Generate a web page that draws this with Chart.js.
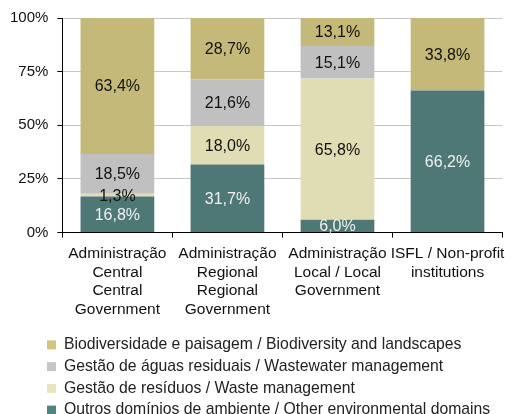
<!DOCTYPE html>
<html>
<head>
<meta charset="utf-8">
<script src="https://cdn.jsdelivr.net/npm/chart.js@4/dist/chart.umd.min.js"></script>
<style>
  html, body { margin: 0; padding: 0; background: #fff; }
  #wrap { width: 512px; height: 414px; }
</style>
</head>
<body>
<div id="wrap"><canvas id="chart-bar"></canvas></div>
<script>
var categories = [
  ["Administração", "Central", "Central", "Government"],
  ["Administração", "Regional", "Regional", "Government"],
  ["Administração", "Local / Local", "Government"],
  ["ISFL / Non-profit", "institutions"]
];
var otherDomains = [16.8, 31.7, 6.0, 66.2];
var wasteMgmt = [1.3, 18.0, 65.8, 0];
var wastewaterMgmt = [18.5, 21.6, 15.1, 0];
var biodiversity = [63.4, 28.7, 13.1, 33.8];
var yTicks = [0, 25, 50, 75, 100];

var fontFamily = "'Liberation Sans', Arial, sans-serif";

function pct(v) {
  return v.toFixed(1).replace(".", ",") + "%";
}

// draws the value in the middle of each segment
var segmentLabels = {
  id: "segmentLabels",
  afterDatasetsDraw: function (chart) {
    var ctx = chart.ctx;
    ctx.save();
    ctx.font = "16px " + fontFamily;
    ctx.textAlign = "center";
    ctx.textBaseline = "middle";
    chart.data.datasets.forEach(function (ds, i) {
      var meta = chart.getDatasetMeta(i);
      meta.data.forEach(function (bar, j) {
        var v = ds.data[j];
        if (!v) return;
        ctx.fillStyle = ds.labelColor;
        ctx.fillText(pct(v), bar.x, (bar.y + bar.base) / 2 + 1);
      });
    });
    ctx.restore();
  }
};

// legend rows sit a bit left and lower than chart.js puts them
var legendShift = {
  id: "legendShift",
  afterLayout: function (chart) {
    var lg = chart.legend;
    lg.left = 41;
    lg.top += 5;
    lg.bottom += 5;
  }
};

var ctx = document.getElementById("chart-bar").getContext("2d");

new Chart(ctx, {
  type: "bar",
  data: {
    labels: categories,
    datasets: [
      {
        label: "Outros domínios de ambiente / Other environmental domains",
        data: otherDomains,
        backgroundColor: "#4e7876",
        legendColor: "#4f8580",
        labelColor: "#f0f0f0"
      },
      {
        label: "Gestão de resíduos / Waste management",
        data: wasteMgmt,
        backgroundColor: "#e0dcb3",
        legendColor: "#e8e4c0",
        labelColor: "#111"
      },
      {
        label: "Gestão de águas residuais / Wastewater management",
        data: wastewaterMgmt,
        backgroundColor: "#c0c0c0",
        legendColor: "#c6c6c8",
        labelColor: "#111"
      },
      {
        label: "Biodiversidade e paisagem / Biodiversity and landscapes",
        data: biodiversity,
        backgroundColor: "#c4b978",
        legendColor: "#d4c47c",
        labelColor: "#111"
      }
    ]
  },
  options: {
    responsive: true,
    maintainAspectRatio: false,
    animation: false,
    layout: {
      padding: { top: 6, right: 5, left: 1, bottom: -9 }
    },
    datasets: {
      bar: {
        categoryPercentage: 1,
        barPercentage: 0.67
      }
    },
    plugins: {
      tooltip: { enabled: false },
      legend: {
        position: "bottom",
        align: "start",
        reverse: true,
        labels: {
          boxWidth: 9,
          boxHeight: 9,
          padding: 6,
          color: "#222",
          font: { size: 15.75, family: fontFamily },
          generateLabels: function (chart) {
            var items = Chart.defaults.plugins.legend.labels.generateLabels(chart);
            items.forEach(function (it) {
              var c = chart.data.datasets[it.datasetIndex].legendColor;
              it.fillStyle = c;
              it.strokeStyle = c;
              it.lineWidth = 0;
            });
            return items;
          }
        }
      }
    },
    scales: {
      x: {
        stacked: true,
        grid: {
          display: true,
          drawOnChartArea: false,
          drawTicks: true,
          tickLength: 5,
          tickColor: "#000",
          offset: true
        },
        border: { display: true, color: "#000", width: 1 },
        ticks: {
          color: "#111",
          padding: 7,
          maxRotation: 0,
          autoSkip: false,
          font: { size: 15.5, family: fontFamily, lineHeight: 1.2 }
        }
      },
      y: {
        stacked: true,
        min: 0,
        max: 100,
        afterBuildTicks: function (axis) {
          axis.ticks = yTicks.map(function (v) { return { value: v }; });
        },
        grid: {
          color: "#c8c8c8",
          tickColor: "#000",
          tickLength: 5,
          tickBorderDash: [],
          borderDash: [3, 3]
        },
        border: { display: true, color: "#000", width: 1, dash: [] },
        ticks: {
          color: "#111",
          padding: 9,
          callback: function (v) { return v + "%"; },
          font: { size: 15, family: fontFamily }
        }
      }
    }
  },
  plugins: [segmentLabels, legendShift]
});
</script>
</body>
</html>
